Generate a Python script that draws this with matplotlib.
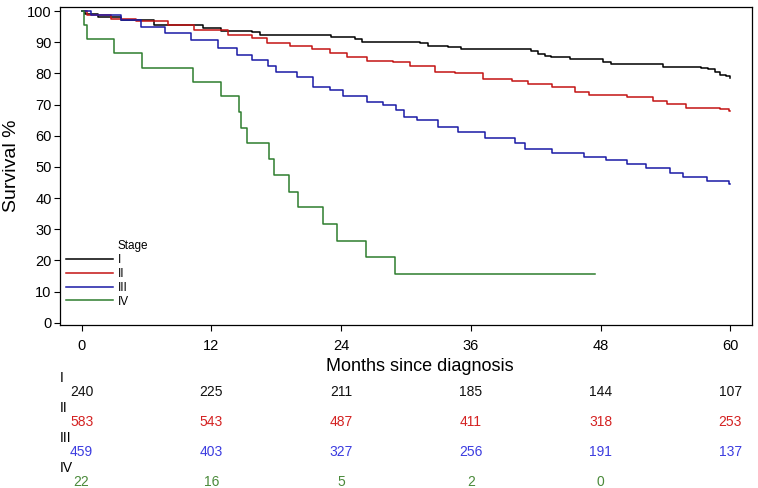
import matplotlib
matplotlib.use('Agg')
import matplotlib.pyplot as plt
import matplotlib.transforms as transforms
from matplotlib.lines import Line2D

plt.rcParams['font.family'] = ['Liberation Sans', 'DejaVu Sans']

# Kaplan-Meier curves (months, survival %)
t_I = [0, 0.3, 1.5, 3.6, 6.7, 11.2, 12.9, 15.8, 16.5, 23.1, 25.3, 25.9, 31.3, 32.0, 33.9, 35.1,
       41.6, 42.2, 42.9, 43.4, 45.2, 48.2, 49.0, 53.8, 57.3, 57.9, 58.6, 59.0, 59.6, 60.0]
s_I = [100, 99.0, 98.2, 97.1, 95.5, 94.7, 93.6, 93.4, 92.3, 91.8, 90.9, 90.2, 89.8, 88.8, 88.4, 87.7,
       87.3, 86.2, 85.6, 85.2, 84.5, 83.8, 83.0, 82.2, 81.8, 81.3, 80.3, 79.6, 79.2, 78.4]

t_II = [0, 0.5, 2.7, 5.0, 8.0, 10.4, 13.5, 15.8, 17.1, 19.3, 21.3, 23.0, 24.5, 26.4, 28.8, 30.4,
        32.7, 34.5, 37.1, 39.8, 41.3, 43.5, 45.6, 46.9, 50.4, 52.8, 54.1, 55.9, 59.0, 59.9, 60.0]
s_II = [100, 98.8, 97.6, 96.8, 95.5, 93.9, 92.3, 91.2, 89.6, 88.8, 87.7, 86.4, 85.2, 84.1, 83.8, 82.4,
        80.6, 80.0, 78.1, 77.7, 76.6, 75.6, 74.1, 73.1, 72.5, 71.2, 70.1, 69.0, 68.7, 67.9, 67.9]

t_III = [0, 0.9, 3.6, 5.5, 7.7, 10.1, 12.6, 14.4, 15.8, 17.2, 18.0, 19.9, 21.4, 23.0, 24.2, 26.4, 27.9,
         29.1, 29.8, 31.0, 33.0, 34.8, 37.3, 40.1, 41.0, 43.5, 46.5, 48.5, 50.4, 52.2, 54.4, 55.6,
         57.8, 59.9, 60.0]
s_III = [100, 98.7, 97.1, 95.0, 92.9, 90.7, 88.0, 85.9, 84.3, 82.4, 80.6, 79.0, 75.7, 74.7, 72.8, 70.9, 69.9,
         68.3, 66.1, 65.1, 62.9, 61.3, 59.2, 57.6, 55.7, 54.6, 53.3, 52.2, 51.0, 49.6, 48.2, 46.9,
         45.6, 44.6, 44.4]

t_IV = [0, 0.2, 0.5, 3.0, 5.6, 10.3, 12.9, 14.6, 14.7, 15.3, 17.3, 17.8, 19.2, 20.0, 22.3, 23.6,
        26.3, 29.0, 47.5]
s_IV = [100, 95.5, 90.9, 86.4, 81.8, 77.3, 72.7, 67.5, 62.5, 57.6, 52.5, 47.3, 42.1, 37.0, 31.7, 26.3,
        21.0, 15.8, 15.8]

stages = ['I', 'II', 'III', 'IV']
line_colors = ['#000000', '#c41414', '#1a1aa6', '#2e7d2e']
text_colors = ['#111111', '#d42222', '#3c3ce0', '#4a8a3a']

# numbers at risk
months = [0, 12, 24, 36, 48, 60]
risk_I = [240, 225, 211, 185, 144, 107]
risk_II = [583, 543, 487, 411, 318, 253]
risk_III = [459, 403, 327, 256, 191, 137]
risk_IV = [22, 16, 5, 2, 0]

fig = plt.figure(figsize=(7.58, 4.88), dpi=100)
ax = fig.add_axes([60/758, 1-325/488, 692/758, 318/488])

curves = [(t_I, s_I), (t_II, s_II), (t_III, s_III), (t_IV, s_IV)]
handles = []
for (t, s), c in zip(curves, line_colors):
    ln, = ax.plot(t, s, drawstyle='steps-post', color=c, lw=1.1)
    handles.append(ln)

ax.set_xlim(-2, 62)
ax.set_ylim(-0.7, 101.3)
ax.set_xticks(months)
ax.set_yticks(range(0, 101, 10))
ax.tick_params(direction='out', length=4, width=0.8, labelsize=10.5, pad=2)
ax.tick_params(axis='x', pad=6)
for sp in ax.spines.values():
    sp.set_linewidth(0.9)
ax.set_xlabel('Months since diagnosis', fontsize=13)
ax.xaxis.set_label_coords(0.52, -0.105)
ax.set_ylabel('Survival %', fontsize=14)
ax.yaxis.set_label_coords(-0.058, 0.5)

# legend with "Stage" as a blank first entry
blank = Line2D([], [], color='none')
leg = ax.legend([blank] + handles, ['Stage'] + stages, loc='lower left',
                bbox_to_anchor=(0.008, 0.055), frameon=False, fontsize=8.5,
                handlelength=4.0, handletextpad=0.4, labelspacing=0.15,
                borderpad=0, borderaxespad=0)

# risk table under the axes
trans = transforms.blended_transform_factory(ax.transData, fig.transFigure)
risk_rows = [risk_I, risk_II, risk_III, risk_IV]
for i, (name, row, col) in enumerate(zip(stages, risk_rows, text_colors)):
    y_num = 1 - (392 + 30*i)/488
    y_lab = 1 - (378 + 30*i)/488
    fig.text(60/758, y_lab, name, fontsize=10, color='black', ha='left', va='center')
    for m, n in zip(months, row):
        ax.text(m, y_num, str(n), transform=trans, fontsize=10, color=col,
                ha='center', va='center')

fig.savefig('out.png', dpi=100)
